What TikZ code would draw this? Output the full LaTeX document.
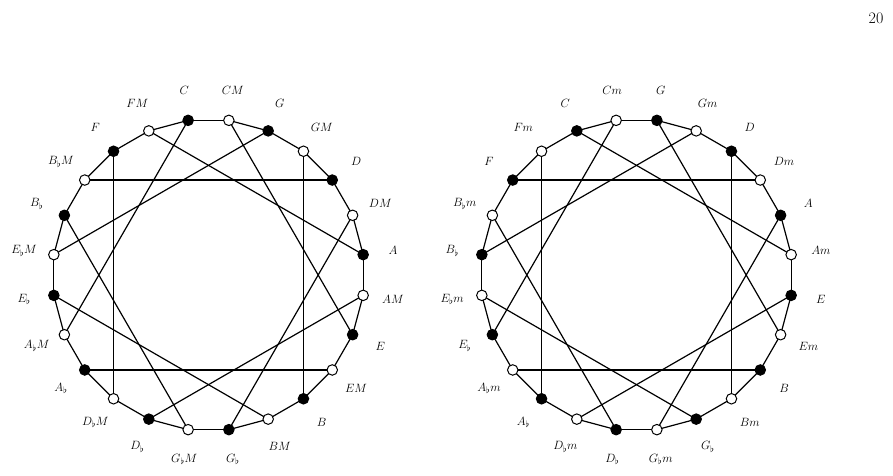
\documentclass[tikz,border=0pt]{standalone}
\begin{document}
\begin{tikzpicture}[x=1pt,y=-1pt,
  vtx/.style={circle,draw,line width=1pt,inner sep=0pt,minimum size=10.5pt},
  note/.style={vtx,fill=black},
  chord/.style={vtx,fill=white},
  lbl/.style={font=\fontsize{12.5}{14}\selectfont},
  edge/.style={line width=1.2pt}]
\useasboundingbox (0,0) rectangle (893,475);
\node[font=\fontsize{16}{18}\selectfont] (pg) at (876,18) {20};
% left circle
\foreach \n [count=\i from 0] in {C,CM,G,GM,D,DM,A,AM,E,EM,B,BM,G_\flat,G_\flat M,D_\flat,D_\flat M,A_\flat,A_\flat M,E_\flat,E_\flat M,B_\flat,B_\flat M,F,FM}{
  \pgfmathsetmacro\ang{97.5-15*\i}
  \pgfmathsetmacro\px{208.5+156*cos(\ang)}
  \pgfmathsetmacro\py{275-156*sin(\ang)}
  \pgfmathsetmacro\qx{208.5+186*cos(\ang)}
  \pgfmathsetmacro\qy{275-186*sin(\ang)}
  \coordinate (L\i) at (\px,\py);
  \node[lbl] (Ll\i) at (\qx,\qy) {$\n$};
}
\foreach \i in {0,...,23}{
  \pgfmathtruncatemacro\j{mod(\i+1,24)}
  \draw[edge] (L\i) -- (L\j);
}
\foreach \c in {1,3,...,23}{
  \pgfmathtruncatemacro\j{mod(\c+7,24)}
  \draw[edge] (L\c) -- (L\j);
}
\foreach \i in {0,2,...,22}{ \node[note] (Ln\i) at (L\i) {}; }
\foreach \i in {1,3,...,23}{ \node[chord] (Ln\i) at (L\i) {}; }
% right circle
\foreach \n [count=\i from 0] in {Cm,G,Gm,D,Dm,A,Am,E,Em,B,Bm,G_\flat,G_\flat m,D_\flat,D_\flat m,A_\flat,A_\flat m,E_\flat,E_\flat m,B_\flat,B_\flat m,F,Fm,C}{
  \pgfmathsetmacro\ang{97.5-15*\i}
  \pgfmathsetmacro\px{636.5+156*cos(\ang)}
  \pgfmathsetmacro\py{275-156*sin(\ang)}
  \pgfmathsetmacro\qx{636.5+186*cos(\ang)}
  \pgfmathsetmacro\qy{275-186*sin(\ang)}
  \coordinate (R\i) at (\px,\py);
  \node[lbl] (Rl\i) at (\qx,\qy) {$\n$};
}
\foreach \i in {0,...,23}{
  \pgfmathtruncatemacro\j{mod(\i+1,24)}
  \draw[edge] (R\i) -- (R\j);
}
\foreach \c in {0,2,...,22}{
  \pgfmathtruncatemacro\j{mod(\c+17,24)}
  \draw[edge] (R\c) -- (R\j);
}
\foreach \i in {1,3,...,23}{ \node[note] (Rn\i) at (R\i) {}; }
\foreach \i in {0,2,...,22}{ \node[chord] (Rn\i) at (R\i) {}; }
\end{tikzpicture}
\end{document}
